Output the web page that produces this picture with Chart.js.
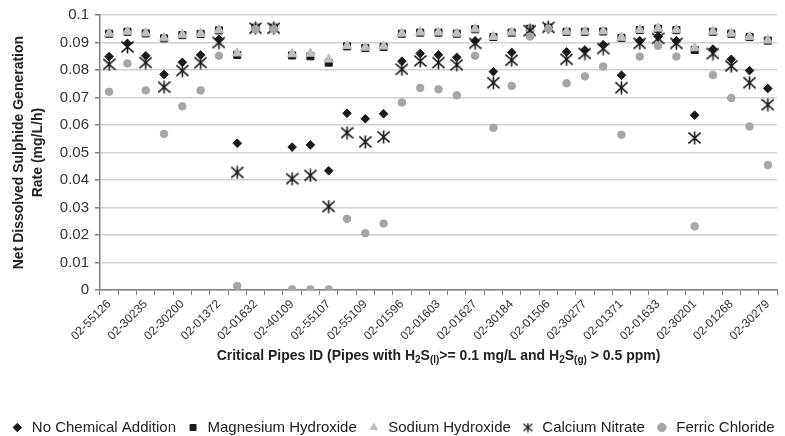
<!DOCTYPE html>
<html>
<head>
<meta charset="utf-8">
<script src="https://cdn.jsdelivr.net/npm/chart.js@4"></script>
<style>
  body { margin: 0; background: #fff; }
  #wrap { width: 785px; height: 436px; position: relative; }
</style>
</head>
<body>
<div id="wrap"><canvas id="chart"></canvas></div>
<script>
// pipe IDs (only every other one is printed on the axis)
const pipeIds = [
  '02-55126', '', '02-30235', '', '02-30200', '', '02-01372', '', '02-01632', '',
  '02-40109', '', '02-55107', '', '02-55109', '', '02-01596', '', '02-01603', '',
  '02-01627', '', '02-30184', '', '02-01506', '', '02-30277', '', '02-01371', '',
  '02-01633', '', '02-30201', '', '02-01268', '', '02-30279'
];

const noChemical = [
  0.0849, 0.0897, 0.0852, 0.0784, 0.0828, 0.0855, 0.0912, 0.0534, 0.0950, 0.0952,
  0.0520, 0.0528, 0.0434, 0.0643, 0.0623, 0.0641, 0.0832, 0.0860, 0.0855, 0.0846,
  0.0906, 0.0794, 0.0864, 0.0945, 0.0955, 0.0866, 0.0873, 0.0892, 0.0781, 0.0906,
  0.0922, 0.0906, 0.0636, 0.0876, 0.0839, 0.0798, 0.0733
];
const magnesium = [
  0.0932, 0.0939, 0.0933, 0.0915, 0.0927, 0.0931, 0.0944, 0.0855, 0.0954, 0.0954,
  0.0853, 0.0850, 0.0827, 0.0886, 0.0880, 0.0884, 0.0932, 0.0936, 0.0936, 0.0932,
  0.0948, 0.0920, 0.0936, 0.0950, 0.0954, 0.0939, 0.0939, 0.0940, 0.0917, 0.0945,
  0.0950, 0.0945, 0.0873, 0.0939, 0.0932, 0.0920, 0.0907
];
const sodium = [
  0.0933, 0.0940, 0.0934, 0.0916, 0.0928, 0.0932, 0.0945, 0.0861, 0.0955, 0.0955,
  0.0858, 0.0860, 0.0839, 0.0888, 0.0882, 0.0886, 0.0933, 0.0937, 0.0937, 0.0933,
  0.0949, 0.0921, 0.0937, 0.0951, 0.0955, 0.0940, 0.0940, 0.0941, 0.0918, 0.0946,
  0.0951, 0.0946, 0.0880, 0.0940, 0.0933, 0.0921, 0.0908
];
const calcium = [
  0.0821, 0.0884, 0.0827, 0.0738, 0.0798, 0.0827, 0.0900, 0.0428, 0.0952, 0.0952,
  0.0405, 0.0417, 0.0304, 0.0572, 0.0539, 0.0557, 0.0803, 0.0833, 0.0827, 0.0819,
  0.0897, 0.0754, 0.0836, 0.0943, 0.0955, 0.0839, 0.0860, 0.0878, 0.0736, 0.0897,
  0.0915, 0.0897, 0.0553, 0.0860, 0.0815, 0.0754, 0.0674
];
const ferric = [
  0.0721, 0.0824, 0.0726, 0.0568, 0.0668, 0.0726, 0.0852, 0.0015, 0.0948, 0.0948,
  0.0003, 0.0003, 0.0003, 0.0259, 0.0207, 0.0242, 0.0682, 0.0735, 0.0730, 0.0708,
  0.0852, 0.0590, 0.0742, 0.0922, 0.0950, 0.0752, 0.0777, 0.0813, 0.0565, 0.0849,
  0.0888, 0.0849, 0.0232, 0.0782, 0.0698, 0.0595, 0.0455
];

const FONT = "'Liberation Sans', Arial, sans-serif";

// six-spoke asterisk marker like the original
function makeStar(w, h, lw) {
    const c = document.createElement('canvas');
    c.width = w; c.height = h;
    const g = c.getContext('2d');
    g.strokeStyle = '#1a1a1a';
    g.lineWidth = lw;
    g.beginPath();
    g.moveTo(w / 2, 0.5); g.lineTo(w / 2, h - 0.5);
    g.moveTo(0.5, 1.5); g.lineTo(w - 0.5, h - 1.5);
    g.moveTo(0.5, h - 1.5); g.lineTo(w - 0.5, 1.5);
    g.stroke();
    return c;
}
const starBig = makeStar(13, 14, 1.6);
const starSmall = makeStar(10, 10, 1.4);

// x-axis title with subscripts
const richTitle = {
    id: 'richTitle',
    afterDraw(chart) {
        const ctx = chart.ctx;
        const xs = chart.scales.x;
        const parts = [
            ['Critical Pipes ID (Pipes with H', 0], ['2', 1], ['S', 0], ['(l)', 1],
            ['>= 0.1 mg/L and H', 0], ['2', 1], ['S', 0], ['(g)', 1], [' > 0.5 ppm)', 0]
        ];
        const big = 'bold 14px ' + FONT, small = 'bold 10px ' + FONT;
        ctx.save();
        let total = 0;
        parts.forEach(p => { ctx.font = p[1] ? small : big; total += ctx.measureText(p[0]).width; });
        let x = (chart.chartArea.left + chart.chartArea.right) / 2 - total / 2;
        const y = xs.top + 70;
        ctx.fillStyle = '#222';
        ctx.textBaseline = 'alphabetic';
        ctx.textAlign = 'left';
        parts.forEach(p => {
            ctx.font = p[1] ? small : big;
            ctx.fillText(p[0], x, p[1] ? y + 3 : y);
            x += ctx.measureText(p[0]).width;
        });
        ctx.restore();
    }
};

document.addEventListener("DOMContentLoaded", function () {
    const ds = (label, data, style, color, radius, order) => ({
        label: label,
        data: data,
        showLine: false,
        pointStyle: style,
        pointRadius: radius,
        pointHoverRadius: radius,
        backgroundColor: color,
        borderColor: color,
        borderWidth: 1,
        order: order
    });

    new Chart(document.getElementById('chart').getContext('2d'), {
        type: 'line',
        data: {
            labels: pipeIds,
            datasets: [
                ds('No Chemical Addition', noChemical, 'rectRot', '#1a1a1a', 4.3, 5),
                ds('Magnesium Hydroxide', magnesium, 'rect', '#1a1a1a', 5, 4),
                ds('Sodium Hydroxide', sodium, 'triangle', '#bfbfbf', 5.5, 3),
                ds('Calcium Nitrate', calcium, starBig, '#1a1a1a', 7, 2),
                ds('Ferric Chloride', ferric, 'circle', '#a6a6a6', 3.8, 1)
            ]
        },
        options: {
            responsive: true,
            maintainAspectRatio: false,
            animation: false,
            layout: { padding: { top: 15, right: 0, left: 0, bottom: -9 } },
            plugins: {
                tooltip: { enabled: false },
                legend: {
                    position: 'bottom',
                    reverse: true,
                    labels: {
                        usePointStyle: true,
                        boxWidth: 14,
                        boxHeight: 6,
                        padding: 10,
                        color: '#222',
                        font: { family: FONT, size: 15 },
                        generateLabels: function (chart) {
                            const items = Chart.defaults.plugins.legend.labels.generateLabels(chart);
                            items.forEach(it => { if (it.pointStyle === starBig) it.pointStyle = starSmall; });
                            return items;
                        }
                    }
                }
            },
            scales: {
                x: {
                    offset: true,
                    afterFit: s => { s.paddingRight = 4; },
                    grid: {
                        display: true,
                        offset: true,
                        drawOnChartArea: false,
                        drawTicks: true,
                        tickLength: 5,
                        color: '#808080'
                    },
                    border: { display: true, color: '#808080', width: 1.5 },
                    ticks: {
                        autoSkip: false,
                        minRotation: 45,
                        maxRotation: 45,
                        padding: 2,
                        color: '#333',
                        font: { family: FONT, size: 12 }
                    },
                    title: {
                        display: true,
                        text: ' ',
                        font: { family: FONT, size: 14, weight: 'bold' },
                        padding: { top: 16, bottom: 32 }
                    }
                },
                y: {
                    min: 0,
                    max: 0.1,
                    ticks: {
                        stepSize: 0.01,
                        color: '#333',
                        padding: 6,
                        font: { family: FONT, size: 15 },
                        callback: v => String(Math.round(v * 100) / 100)
                    },
                    grid: {
                        color: '#d0d0d0',
                        lineWidth: 1.5,
                        tickLength: 5,
                        tickColor: '#808080'
                    },
                    border: { display: true, color: '#808080', width: 1.5 },
                    title: {
                        display: true,
                        text: ['Net Dissolved Sulphide Generation', 'Rate (mg/L/h)'],
                        color: '#222',
                        font: { family: FONT, size: 14, weight: 'bold', lineHeight: 1.35 },
                        padding: { top: 10, bottom: 6 }
                    }
                }
            }
        },
        plugins: [richTitle]
    });
});
</script>
</body>
</html>
